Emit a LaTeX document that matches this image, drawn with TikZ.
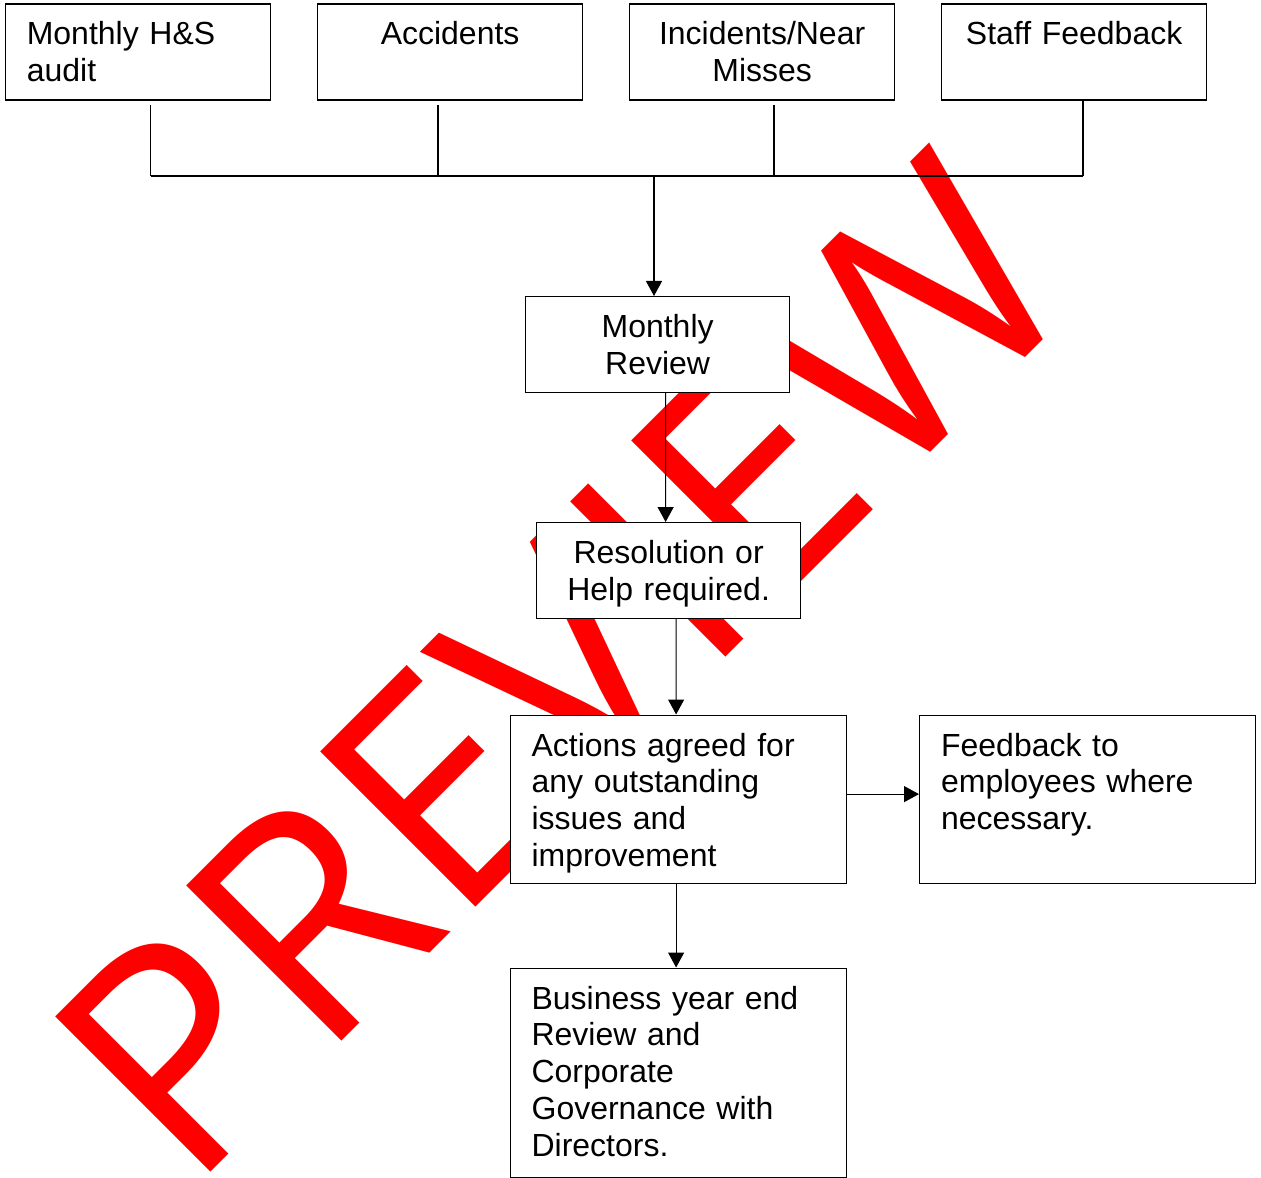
\documentclass[tikz,border=0pt]{standalone}
\usepackage{fontspec}
\setmainfont{Liberation Sans}
\newfontfamily\wmfont{Open Sans}
\usetikzlibrary{arrows.meta}
\newcommand{\boxfnt}{\fontsize{18.2pt}{20.9pt}\selectfont}
\tikzset{
  box/.style={draw, fill=white, line width=0.7pt, anchor=north west, inner xsep=0.43cm, inner ysep=0pt, text height=0.82cm, font=\boxfnt},
  topbox/.style={box, text width=4.44cm, text depth=1.10cm, align=#1},
  midbox/.style={box, text width=4.42cm, text depth=1.10cm, align=center},
  widebox/.style={box, text width=5.86cm, text depth=#1, align=left},
  link/.style={line width=0.7pt},
  arrow/.style={link, -{Triangle[length=0.3cm,width=0.32cm]}}
}

\begin{document}
\begin{tikzpicture}
\useasboundingbox (0,0) rectangle (25.22,-23.56);

\node[anchor=base west, inner sep=0, rotate=45, text=red, font=\wmfont\fontsize{175pt}{180pt}\selectfont] (wm) at (3.78,-23.88) {PREVIEW};

\node[topbox=left] (audit) at (0.094,-0.066) {Monthly H\&S\\audit};
\node[topbox=center] (accidents) at (6.34,-0.066) {Accidents};
\node[topbox=center] (incidents) at (12.58,-0.066) {Incidents/Near\\Misses};
\node[topbox=center] (staff) at (18.82,-0.066) {Staff Feedback};

\node[midbox] (review) at (10.50,-5.92) {Monthly\\Review};
\node[midbox] (resolution) at (10.72,-10.44) {Resolution or\\Help required.};
\node[widebox=2.54cm] (actions) at (10.19,-14.29) {Actions agreed for\\any outstanding\\issues and\\improvement};
\node[widebox=2.54cm] (feedback) at (18.38,-14.29) {Feedback to\\employees where\\necessary.};
\node[widebox=3.36cm] (yearend) at (10.19,-19.35) {Business year end\\Review and\\Corporate\\Governance with\\Directors.};

\coordinate (tapA) at (3.01,-3.52);
\coordinate (tapB) at (8.76,-3.52);
\coordinate (tapC) at (15.48,-3.52);
\coordinate (tapD) at (21.66,-3.52);
\coordinate (tapM) at (13.08,-3.52);

\draw[link] (tapA) -- (tapD);
\foreach \t in {tapA,tapB,tapC} {
  \draw[link] (\t) -- ++(0,1.42);
}
\draw[link] (tapD) -- (tapD |- staff.south);
\draw[arrow] (tapM) -- (tapM |- review.north);
\draw[arrow] ([xshift=0.16cm]review.south) -- ([xshift=-0.06cm]resolution.north);
\draw[arrow] ([xshift=0.15cm]resolution.south) -- ([xshift=-0.04cm]actions.north);
\draw[arrow] ([yshift=0.1cm]actions.east) -- ([yshift=0.1cm]feedback.west);
\draw[arrow] ([xshift=-0.04cm]actions.south) -- ([xshift=-0.04cm]yearend.north);

\end{tikzpicture}
\end{document}
